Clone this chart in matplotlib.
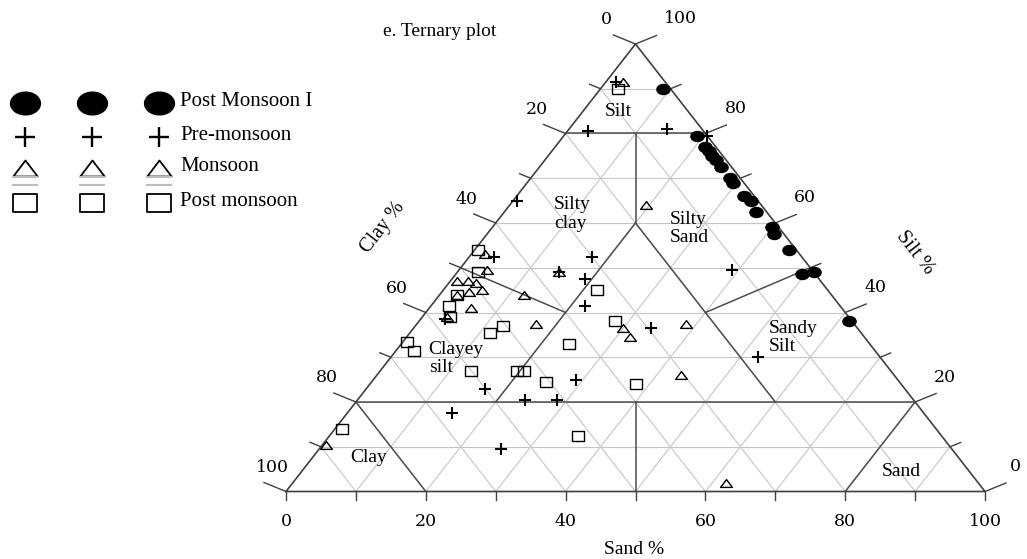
import numpy as np
import matplotlib.pyplot as plt
from matplotlib.path import Path
from matplotlib.transforms import Affine2D

# sample composition: sand % and silt % (clay = 100 - sand - silt)
post_monsoon_1_sand = [9, 19, 21.5, 22.5, 23.5, 24.5, 26, 28.5, 29.5, 32.5, 34, 36, 40, 41, 45, 49.5, 51, 61.5]
post_monsoon_1_silt = [90, 79.5, 77, 76, 75, 74, 72.5, 70, 69, 66, 65, 62.5, 59, 57.5, 54, 48.5, 49, 38]

pre_monsoon_sand = [1.5, 3, 14, 20.5, 0.5, 3.5, 3.5, 17.5, 14.5, 19, 22, 34, 39, 52.5, 29, 17, 24, 28.5, 15, 26]
pre_monsoon_silt = [91.5, 80.5, 81, 79.5, 65, 52.5, 38.5, 52.5, 49, 47.5, 41.5, 36.5, 49.5, 30, 25, 23, 20.5, 20.5, 17.5, 9.5]

monsoon_sand = [2.5, 19.5, 14.5, 12, 17, 30, 32, 38.5, 43.5, 62, 0.5, 2, 4, 1, 2.5, 4, 5.5, 4, 2.5, 6, 3.5]
monsoon_silt = [91.5, 64, 49, 44, 37.5, 36.5, 34.5, 37.5, 26, 2, 10.5, 53, 49.5, 47, 47, 46.5, 45, 44.5, 44, 41, 39]

post_monsoon_sand = [2.5, 0.5, 3, 2.5, 2.5, 4, 11.5, 12.5, 22, 28, 0.5, 2.5, 13, 19.5, 20.5, 25, 24, 35.5, 38, 1]
post_monsoon_silt = [90, 54, 49, 44, 41.5, 39, 35.5, 37, 45, 38, 33.5, 31.5, 27, 27, 27, 24.5, 33, 12.5, 24, 14]

series_names = ['Post Monsoon I', 'Pre-monsoon', 'Monsoon', 'Post monsoon']
tick_values = [0, 20, 40, 60, 80, 100]

# class boundaries as (sand, silt) end points
class_lines = [((0, 80), (20, 80)), ((10, 80), (20, 60)), ((20, 60), (20, 20)),
               ((20, 60), (60, 20)), ((0, 20), (80, 20)), ((0, 20), (20, 0)),
               ((80, 20), (80, 0)), ((40, 20), (50, 0)), ((20, 40), (0, 50)),
               ((40, 40), (50, 50))]
class_names = ['Silt', 'Silty\nclay', 'Silty\nSand', 'Clayey\nsilt', 'Sandy\nSilt', 'Clay', 'Sand']
class_sand = [5, 10, 28.3, 9.5, 55.3, 8, 85.8]
class_silt = [85, 62, 58.8, 29.7, 34.4, 7.7, 4.4]

serif = 'Liberation Serif'
numfont = 'DejaVu Serif'

W, H = 1027, 559
fig = plt.figure(figsize=(W / 100, H / 100), dpi=100)
x0, x1, ybot, ytop = 286, 985, 491.5, 44
ax = fig.add_axes([x0 / W, 1 - ybot / H, (x1 - x0) / W, (ybot - ytop) / H])
ax.set_xlim(0, 100)
ax.set_ylim(0, 100)
ax.axis('off')
sx = (x1 - x0) / 100.0
sy = (ybot - ytop) / 100.0


def tern(sand, silt):
    sand = np.asarray(sand, float)
    silt = np.asarray(silt, float)
    return sand + silt / 2, silt


# light grid every 10 %
for v in range(10, 100, 10):
    for a, b in [((0, v), (100 - v, v)), ((v, 0), (v, 100 - v)), ((100 - v, 0), (0, 100 - v))]:
        xs, ys = tern([a[0], b[0]], [a[1], b[1]])
        ax.plot(xs, ys, color='#c6c6c6', lw=0.8, zorder=1, solid_capstyle='butt')

# class boundaries
for a, b in class_lines:
    xs, ys = tern([a[0], b[0]], [a[1], b[1]])
    ax.plot(xs, ys, color='#4d4d4d', lw=1.1, zorder=2)

# triangle
xs, ys = tern([0, 100, 0, 0], [0, 0, 100, 0])
ax.plot(xs, ys, color='#404040', lw=1.2, zorder=2, clip_on=False)

# ticks + labels
for v in range(0, 101, 10):
    k = 1.0 if v % 20 == 0 else 0.5
    bx, by = tern(0 + v, 0)
    ax.plot([bx, bx], [by, by - 8 / sy], color='#404040', lw=1.0, clip_on=False)
    lx, ly = tern(0, 100 - v)
    ax.plot([lx, lx - 22 * k / sx], [ly, ly + 9 * k / sy], color='#404040', lw=1.0, clip_on=False)
    rx, ry = tern(100 - v, v)
    ax.plot([rx, rx + 21 * k / sx], [ry, ry + 8.5 * k / sy], color='#404040', lw=1.0, clip_on=False)

for v in tick_values:
    bx, by = tern(v, 0)
    ax.text(bx, by - 30 / sy, str(v), ha='center', va='center', fontsize=12.5, family=numfont)
    lx, ly = tern(0, 100 - v)
    dx = -14 if v == 100 else -29
    ax.text(lx + dx / sx, ly + 24 / sy, str(v), ha='center', va='center', fontsize=12.5, family=numfont)
    rx, ry = tern(100 - v, v)
    dx = 45 if v == 100 else 30
    ax.text(rx + dx / sx, ry + 25 / sy, str(v), ha='center', va='center', fontsize=12.5, family=numfont)

for name, s, t in zip(class_names, class_sand, class_silt):
    cx, cy = tern(s, t)
    ax.text(cx, cy, name, ha='center', va='center', multialignment='left', fontsize=14,
            family=serif, linespacing=1.1, zorder=3)

# markers
ell = Path.unit_circle().transformed(Affine2D().scale(1, 0.76))
rect = Path([(-0.6, -0.45), (0.6, -0.45), (0.6, 0.45), (-0.6, 0.45), (-0.6, -0.45)],
            [1, 2, 2, 2, 79])
tri = Path([(-0.5, -0.33), (0.5, -0.33), (0, 0.33), (-0.5, -0.33)], [1, 2, 2, 79])

xs, ys = tern(post_monsoon_1_sand, post_monsoon_1_silt)
ax.plot(xs, ys, ls='none', marker=ell, ms=9.5, color='black', zorder=5, clip_on=False)
xs, ys = tern(pre_monsoon_sand, pre_monsoon_silt)
ax.plot(xs, ys, ls='none', marker='+', ms=9, mew=1.5, color='black', zorder=5, clip_on=False)
xs, ys = tern(monsoon_sand, monsoon_silt)
ax.plot(xs, ys, ls='none', marker=tri, ms=8.5, mfc='none', mec='black', mew=1.0, zorder=5, clip_on=False)
xs, ys = tern(post_monsoon_sand, post_monsoon_silt)
ax.plot(xs, ys, ls='none', marker=rect, ms=9, mfc='none', mec='black', mew=1.0, zorder=5, clip_on=False)

# axis titles
fig.text(634 / W, 1 - 549 / H, 'Sand %', ha='center', va='center', fontsize=14, family=serif)
fig.text(383 / W, 1 - 228 / H, 'Clay %', ha='center', va='center', rotation=52, fontsize=14.5, family=serif)
fig.text(915 / W, 1 - 253 / H, 'Silt %', ha='center', va='center', rotation=-52, fontsize=14.5, family=serif)
fig.text(440 / W, 1 - 32 / H, 'e. Ternary plot', ha='center', va='center', fontsize=14, family=serif)

# legend (three marker columns, label on the right)
lg = fig.add_axes([0, 0, 1, 1])
lg.set_xlim(0, W)
lg.set_ylim(H, 0)
lg.axis('off')
row_y = [103, 136.5, 167.5, 203]
col_x = [25, 91.5, 158.5]
styles = [dict(marker=ell, ms=21.5, color='black'),
          dict(marker='+', ms=15, mew=1.7, color='black'),
          dict(marker=tri, ms=17.5, mfc='none', mec='black', mew=1.3),
          dict(marker=rect, ms=17.5, mfc='none', mec='black', mew=1.3)]
for name, y, st in zip(series_names, row_y, styles):
    lg.plot(col_x, [y] * 3, ls='none', **st)
    lg.text(180, y - 1, name, ha='left', va='center', fontsize=15, family=serif)
for cx in col_x:
    for gy in (176.5, 185):
        lg.plot([cx - 12, cx + 12], [gy, gy], color='#bdbdbd', lw=1.5)

fig.savefig('out.png', dpi=100)
